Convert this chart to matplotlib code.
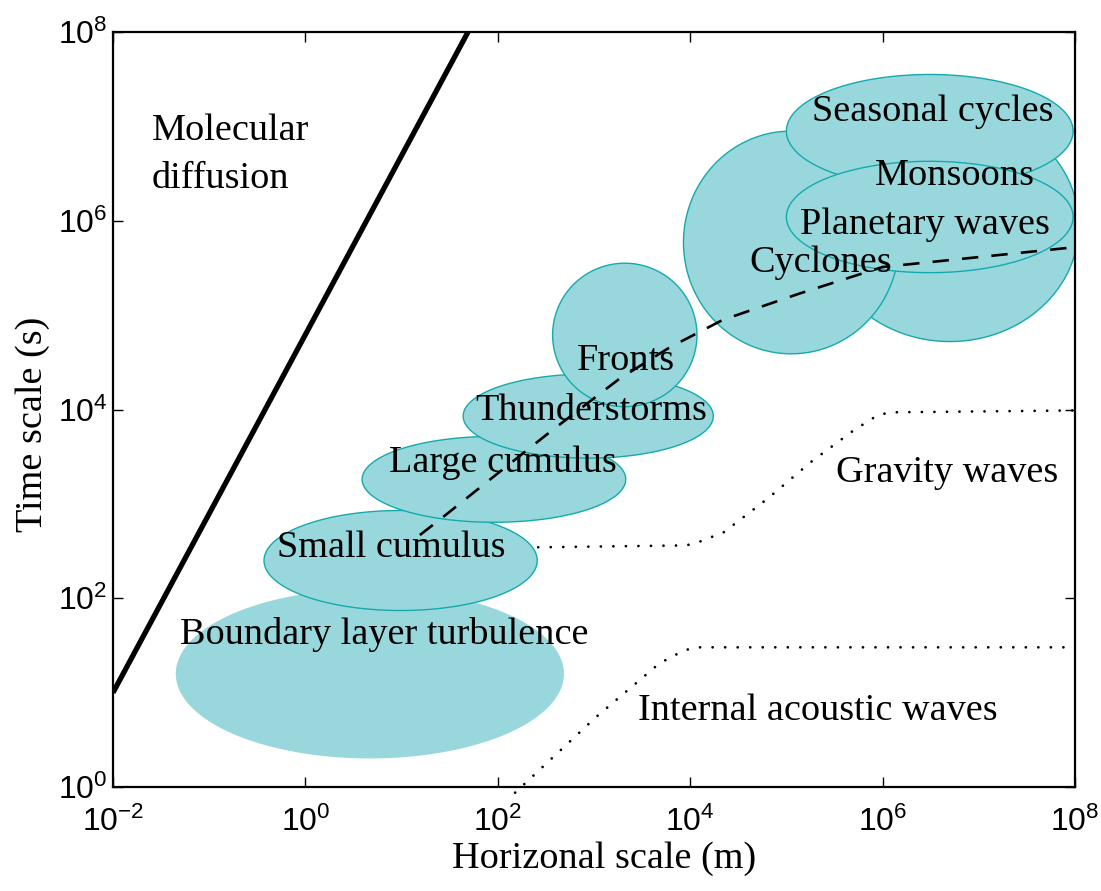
import numpy as np
import matplotlib
matplotlib.use("Agg")
import matplotlib.pyplot as plt

# ---- data (log10 units) ----
ell_names = ["Boundary layer turbulence", "Small cumulus", "Large cumulus", "Thunderstorms",
             "Fronts", "Monsoons", "Cyclones", "Seasonal cycles", "Planetary waves"]
ell_cx = [0.67, 0.99, 1.96, 2.94, 3.32, 6.70, 5.05, 6.49, 6.49]
ell_cy = [1.20, 2.40, 3.26, 3.93, 4.79, 5.95, 5.77, 6.95, 6.04]
ell_ax = [2.01, 1.42, 1.37, 1.30, 0.75, 1.34, 1.12, 1.49, 1.49]
ell_ay = [0.89, 0.53, 0.455, 0.445, 0.76, 1.23, 1.18, 0.60, 0.59]
ell_edge = [False, True, True, True, True, True, True, True, True]

# molecular diffusion line
diff_x = [1e-2, 49.0]
diff_y = [1e1, 1e8]

# dashed curve (log10 x, log10 y)
dash_lx = [1.19, 1.43, 2.02, 2.54, 3.27, 3.79, 4.34, 5.14, 6.00, 8.00]
dash_ly = [2.67, 2.86, 3.34, 3.76, 4.33, 4.66, 4.95, 5.23, 5.51, 5.72]

# gravity waves dotted
grav_lx = [2.42, 3.96, 4.10, 4.35, 4.81, 5.25, 5.70, 5.95, 6.08, 8.00]
grav_ly = [2.54, 2.56, 2.60, 2.70, 3.06, 3.44, 3.78, 3.94, 3.97, 3.99]

# internal acoustic waves dotted
ac_lx = [2.18, 3.02, 3.68, 3.94, 4.09, 8.00]
ac_ly = [-0.06, 0.74, 1.31, 1.45, 1.48, 1.48]

# labels: text, log10 x (left), log10 y (centre)
lab_text = ["Molecular\ndiffusion", "Boundary layer turbulence", "Small cumulus", "Large cumulus",
            "Thunderstorms", "Fronts", "Cyclones", "Planetary waves", "Monsoons",
            "Seasonal cycles", "Gravity waves", "Internal acoustic waves"]
lab_lx = [-1.595, -1.30, -0.295, 0.87, 1.77, 2.82, 4.61, 5.14, 5.92, 5.27, 5.52, 3.46]
lab_ly = [6.70, 1.62, 2.54, 3.44, 3.99, 4.52, 5.55, 5.96, 6.48, 7.15, 3.33, 0.81]

xticks = [1e-2, 1e0, 1e2, 1e4, 1e6, 1e8]
yticks = [1e0, 1e2, 1e4, 1e6, 1e8]

FILL = "#98d8dc"
EDGE = "#14aaad"
SERIF = "Liberation Serif"
SANS = "Liberation Sans"

plt.rcParams["mathtext.fontset"] = "custom"
plt.rcParams["mathtext.rm"] = SANS
plt.rcParams["mathtext.it"] = SANS
plt.rcParams["mathtext.default"] = "regular"

fig = plt.figure(figsize=(11.01, 8.91), dpi=100)
ax = fig.add_axes([113 / 1101, (891 - 787) / 891, 962 / 1101, 755 / 891])
ax.set_xscale("log")
ax.set_yscale("log")
ax.set_xlim(1e-2, 1e8)
ax.set_ylim(1e0, 1e8)

t = np.linspace(0, 2 * np.pi, 400)
for i in range(len(ell_names)):
    xs = 10 ** (ell_cx[i] + ell_ax[i] * np.cos(t))
    ys = 10 ** (ell_cy[i] + ell_ay[i] * np.sin(t))
    ax.fill(xs, ys, facecolor=FILL, edgecolor=EDGE if ell_edge[i] else FILL,
            linewidth=1.0, zorder=2 + i * 0.01)

ax.plot(diff_x, diff_y, color="black", lw=3.8, zorder=3, solid_capstyle="butt")
ax.plot(10 ** np.array(dash_lx), 10 ** np.array(dash_ly), color="black", lw=1.9,
        linestyle=(0, (6.2, 5.0)), zorder=3)
ax.plot(10 ** np.array(grav_lx), 10 ** np.array(grav_ly), color="black", lw=2.0,
        linestyle=(0, (0.01, 4.5)), dash_capstyle="round", zorder=3)
ax.plot(10 ** np.array(ac_lx), 10 ** np.array(ac_ly), color="black", lw=2.0,
        linestyle=(0, (0.01, 4.5)), dash_capstyle="round", zorder=3, clip_on=False)

for s, lx, ly in zip(lab_text, lab_lx, lab_ly):
    ax.text(10 ** lx, 10 ** ly, s, ha="left", va="center", fontsize=27.5,
            family=SERIF, zorder=5, linespacing=1.5)

ax.set_xticks(xticks)
ax.set_yticks(yticks)
ax.minorticks_off()
ax.tick_params(which="both", direction="in", length=7, width=1.0, top=True, right=True,
               labelsize=23)
ax.tick_params(axis="x", pad=14)
ax.tick_params(axis="y", pad=4)
for lab in ax.get_xticklabels() + ax.get_yticklabels():
    lab.set_family(SANS)
for sp in ax.spines.values():
    sp.set_linewidth(1.6)
    sp.set_zorder(6)

ax.set_xlabel("Horizonal scale (m)", fontsize=27.5, family=SERIF)
ax.set_ylabel("Time scale (s)", fontsize=27.5, family=SERIF)
ax.xaxis.set_label_coords(0.51, -0.072)
ax.yaxis.set_label_coords(-0.066, 0.48)

fig.savefig("out.png", dpi=100)
